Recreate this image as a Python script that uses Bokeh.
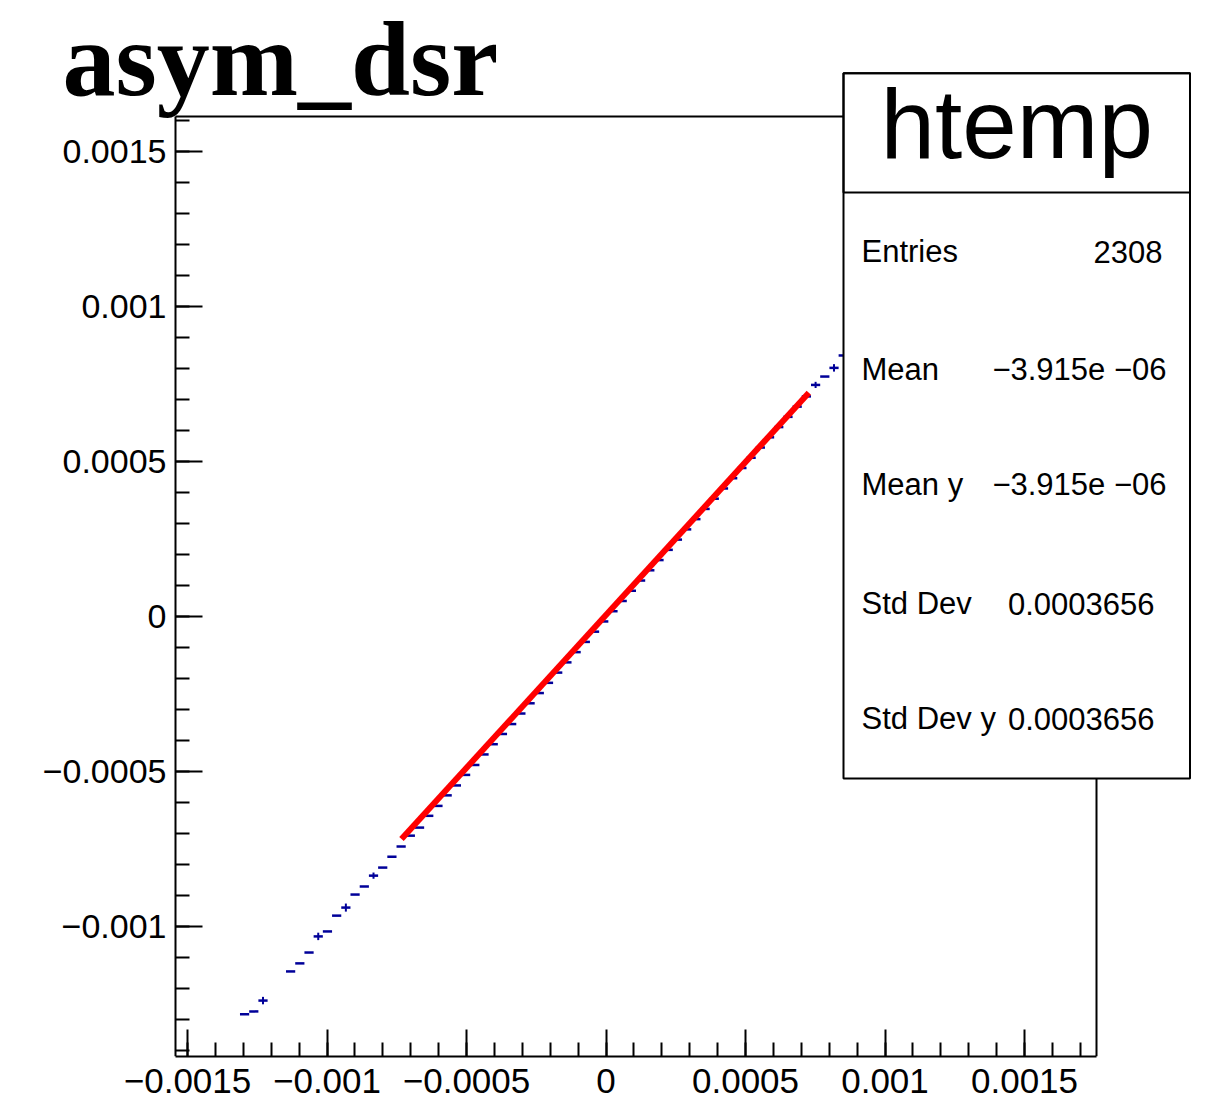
import numpy as np
from bokeh.plotting import figure
from bokeh.models import (Range1d, FixedTicker, LinearAxis, Label, BoxAnnotation,
                          Spacer, ColumnDataSource)
from bokeh.layouts import row
from bokeh.embed import file_html
from bokeh.resources import INLINE

# ---------------- data ----------------
title_text = "asym_dsr"
box_title = "htemp"

bin_width = 3.301e-5
bin_center = [
    -0.0012954, -0.0012624, -0.0012294,
    -0.0011304, -0.0010974, -0.0010644, -0.0010314, -0.0009984, -0.0009654,
    -0.0009324, -0.0008994, -0.0008663, -0.0008333, -0.0008003, -0.0007673,
    -0.0007343, -0.0007013, -0.0006683, -0.0006353, -0.0006023, -0.0005693,
    -0.0005362, -0.0005032, -0.0004702, -0.0004372, -0.0004042, -0.0003712,
    -0.0003381, -0.0003051, -0.0002721, -0.0002391, -0.0002061, -0.0001731,
    -0.0001401, -0.0001071, -0.0000741, -0.0000411, -0.0000081, 0.0000250,
    0.0000580, 0.0000910, 0.0001240, 0.0001570, 0.0001900, 0.0002230,
    0.0002560, 0.0002891, 0.0003221, 0.0003551, 0.0003881, 0.0004211,
    0.0004541, 0.0004871, 0.0005201, 0.0005532, 0.0005862, 0.0006192,
    0.0006522, 0.0006852, 0.0007182, 0.0007512, 0.0007842, 0.0008172,
    0.0008502,
]
profile_mean = [
    -0.001282, -0.001273, -0.001238,
    -0.001144, -0.001118, -0.001083, -0.001031, -0.001015, -0.000964,
    -0.000938, -0.000896, -0.000870, -0.000835, -0.000809, -0.000774,
    -0.000741, -0.000706, -0.000680, -0.000642, -0.000610, -0.000576,
    -0.000544, -0.000510, -0.000478, -0.000444, -0.000411, -0.000378,
    -0.000346, -0.000312, -0.000279, -0.000246, -0.000213, -0.000180,
    -0.000147, -0.000114, -0.000081, -0.000048, -0.000015, 0.000018,
    0.000051, 0.000084, 0.000117, 0.000150, 0.000183, 0.000216,
    0.000249, 0.000282, 0.000315, 0.000348, 0.000381, 0.000414,
    0.000447, 0.000480, 0.000513, 0.000546, 0.000579, 0.000612,
    0.000645, 0.000678, 0.000711, 0.000748, 0.000775, 0.000803,
    0.000843,
]
profile_err = [
    0.0, 0.0, 0.000012,
    0.0, 0.0, 0.0, 0.000012, 0.0, 0.0,
    0.000013, 0.0, 0.0, 0.000010, 0.0, 0.0,
    0.0, 0.0, 0.0, 0.0, 0.0, 0.0,
    0.0, 0.0, 0.0, 0.0, 0.0, 0.0,
    0.0, 0.0, 0.0, 0.0, 0.0, 0.0,
    0.0, 0.0, 0.0, 0.0, 0.0, 0.0,
    0.0, 0.0, 0.0, 0.0, 0.0, 0.0,
    0.0, 0.0, 0.0, 0.0, 0.0, 0.0,
    0.0, 0.0, 0.0, 0.0, 0.0, 0.0,
    0.0, 0.0, 0.0, 0.000010, 0.0, 0.000012,
    0.0,
]

fit_x = [-0.000733, 0.000727]
fit_y = [-0.000717, 0.000723]

x_ticks = [-0.0015, -0.001, -0.0005, 0.0, 0.0005, 0.001, 0.0015]
x_tick_labels = ["\u22120.0015", "\u22120.001", "\u22120.0005", "0", "0.0005", "0.001", "0.0015"]
y_ticks = [-0.001, -0.0005, 0.0, 0.0005, 0.001, 0.0015]
y_tick_labels = ["\u22120.001", "\u22120.0005", "0", "0.0005", "0.001", "0.0015"]

stat_names = ["Entries", "Mean", "Mean y", "Std Dev", "Std Dev y"]
stat_values = ["2308", "\u22123.915e \u221206", "\u22123.915e \u221206", "0.0003656", "0.0003656"]

# ---------------- axis box (histogram frame) in data units ----------------
X_LEFT, X_RIGHT = -0.001543, 0.001758
Y_BOTTOM, Y_TOP = -0.0014184, 0.0016139

# ---------------- layout constants (page pixels) ----------------
CANVAS_X = 36
BOX_L, BOX_R = 175, 1096  # page x of the histogram box
BOX_T, BOX_B = 116, 1056  # page y of the histogram box
FRAME_R = 1200
KX = (BOX_R - BOX_L) / (X_RIGHT - X_LEFT)
KY = (BOX_B - BOX_T) / (Y_TOP - Y_BOTTOM)


def dx(px):
    return X_LEFT + (px - BOX_L) / KX


def dy(py):
    return Y_BOTTOM + (BOX_B - py) / KY


p = figure(frame_width=FRAME_R - CANVAS_X, frame_height=BOX_B,
           min_border_left=0, min_border_top=0, min_border_right=0,
           min_border_bottom=46,
           x_range=Range1d(dx(CANVAS_X), dx(FRAME_R)),
           y_range=Range1d(dy(BOX_B), dy(0)),
           output_backend="svg", toolbar_location=None, tools="")
p.background_fill_color = "white"
p.border_fill_color = "white"
p.outline_line_color = None
p.grid.visible = False

x_minor = [round(v, 4) for v in np.arange(-0.0015, 0.00175, 0.0001)]
y_minor = [round(v, 4) for v in np.arange(-0.0014, 0.00165, 0.0001)]

xa = p.xaxis[0]
xa.ticker = FixedTicker(ticks=x_ticks, minor_ticks=x_minor)
xa.bounds = (X_LEFT, X_RIGHT)
xa.major_label_overrides = dict(zip(x_ticks, x_tick_labels))
xa.major_label_text_font = "Liberation Sans"
xa.major_label_text_font_size = "35px"
xa.major_label_text_color = "black"
xa.major_label_standoff = 12

ya = p.yaxis[0]
ya.ticker = FixedTicker(ticks=y_ticks, minor_ticks=y_minor)
ya.bounds = (Y_BOTTOM, Y_TOP)
ya.fixed_location = X_LEFT
ya.major_label_overrides = {t: "" for t in y_ticks}
ya.major_label_standoff = 0

for ax in (xa, ya):
    ax.axis_line_width = 2
    ax.axis_line_color = "black"
    ax.major_tick_in = 27
    ax.major_tick_out = 0
    ax.minor_tick_in = 14
    ax.minor_tick_out = 0
    ax.major_tick_line_width = 2
    ax.minor_tick_line_width = 2
    ax.major_tick_line_color = "black"
    ax.minor_tick_line_color = "black"

p.add_layout(LinearAxis(ticker=FixedTicker(ticks=[]), fixed_location=X_RIGHT,
                        bounds=(Y_BOTTOM, Y_TOP), axis_line_width=2,
                        axis_line_color="black", major_tick_line_color=None,
                        minor_tick_line_color=None, major_label_standoff=0),
             "right")
p.add_layout(LinearAxis(ticker=FixedTicker(ticks=[]), fixed_location=Y_TOP,
                        bounds=(X_LEFT, X_RIGHT), axis_line_width=2,
                        axis_line_color="black", major_tick_line_color=None,
                        minor_tick_line_color=None, major_label_standoff=0),
             "above")

# ---------------- data glyphs ----------------
xc = np.array(bin_center)
ym = np.array(profile_mean)
ye = np.array(profile_err)
src = ColumnDataSource(dict(x0=xc - bin_width / 2, x1=xc + bin_width / 2, xc=xc,
                            y=ym, ylo=ym - ye, yhi=ym + ye))
p.segment(x0="x0", x1="x1", y0="y", y1="y", source=src,
          line_color="#000099", line_width=2.5)
p.segment(x0="xc", x1="xc", y0="ylo", y1="yhi", source=src,
          line_color="#000099", line_width=2)
p.line(fit_x, fit_y, line_color="#ff0000", line_width=6)

# ---------------- y tick labels ----------------
for t, lab in zip(y_ticks, y_tick_labels):
    p.add_layout(Label(x=dx(166), y=t, text=lab, text_align="right",
                       text_baseline="middle", text_font="Liberation Sans",
                       text_font_size="34px", text_color="black"))

# ---------------- title ----------------
p.add_layout(Label(x=dx(62), y=dy(59), text=title_text, text_font="Liberation Serif",
                   text_font_style="bold", text_font_size="106px",
                   text_baseline="alphabetic", text_align="left",
                   text_color="black"))

# ---------------- stats box ----------------
BX0, BX1, BY0, BY1, BSEP = 843, 1189.5, 72.7, 778, 192
p.add_layout(BoxAnnotation(left=dx(BX0), right=dx(BX1), top=dy(BY0), bottom=dy(BY1),
                           fill_color="white", fill_alpha=1.0,
                           line_color="black", line_alpha=1.0, line_width=2,
                           level="annotation"))
p.add_layout(BoxAnnotation(left=dx(BX0), right=dx(BX1), top=dy(BY0), bottom=dy(BSEP),
                           fill_alpha=0.0,
                           line_color="black", line_alpha=1.0, line_width=2,
                           level="annotation"))
p.add_layout(Label(x=dx((BX0 + BX1) / 2), y=dy(123), text=box_title,
                   text_font="Liberation Sans", text_font_size="98px",
                   text_align="center", text_baseline="alphabetic",
                   text_color="black", level="overlay"))

row_base = [251, 369, 484, 603, 718]
val_right = [1162, 1166, 1166, 1154, 1154]
for name, val, yb, xr in zip(stat_names, stat_values, row_base, val_right):
    p.add_layout(Label(x=dx(861), y=dy(yb), text=name,
                       text_font="Liberation Sans", text_font_size="31px",
                       text_align="left", text_baseline="alphabetic",
                       text_color="black", level="overlay"))
    p.add_layout(Label(x=dx(xr), y=dy(yb), text=val,
                       text_font="Liberation Sans", text_font_size="31px",
                       text_align="right", text_baseline="alphabetic",
                       text_color="black", level="overlay"))

layout = row(Spacer(width=CANVAS_X, height=10), p)
open("out.html", "w").write(file_html(layout, INLINE))
